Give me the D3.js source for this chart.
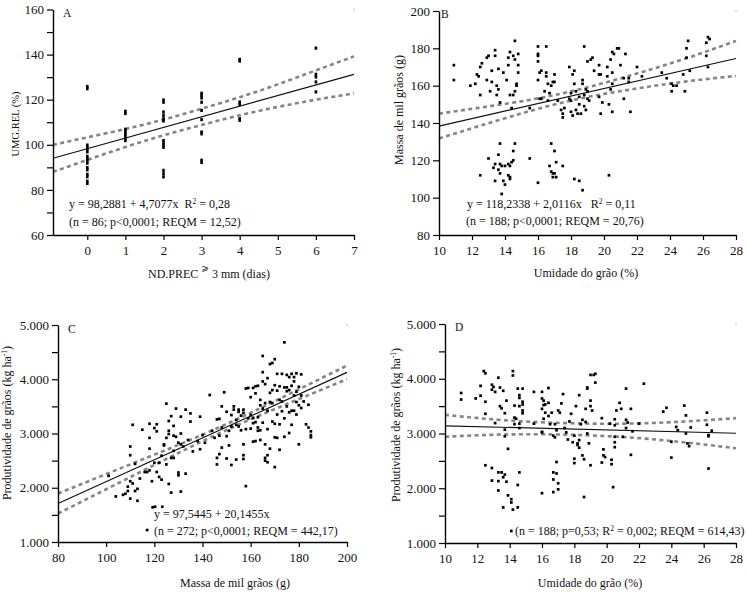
<!DOCTYPE html>
<html><head><meta charset="utf-8">
<script src="https://cdn.jsdelivr.net/npm/d3@7"></script>
<style>
body{margin:0;background:#fff}
text{font-family:'Liberation Serif','Times New Roman',serif;fill:#111}
</style>
</head><body>
<svg id="chart" width="747" height="597"></svg>
<script>
// ---------- DATA ----------
// Panel A: UMG.REL (%) vs ND.PREC >= 3 mm (dias)
const pointsA = [
 [0,125],[0,126],[0,100],[0,99],[0,98],[0,97],[0,95],[0,94],[0,93],[0,92],[0,90],[0,89],[0,87],[0,86],[0,84],[0,83],
 [1,114],[1,115],[1,107],[1,106],[1,105],[1,104],[1,103],[1,102],
 [2,120],[2,119],[2,114.7],[2,113.2],[2,111.7],[2,110.7],[2,102],[2,101],[2,100],[2,99],[2,88.8],[2,87.3],[2,85.9],
 [3,123],[3,122],[3,120.9],[3,119],[3,115.4],[3,111.3],[3,105.8],[3,105],[3,93.3],[3,92.3],
 [4,138],[4,137.3],[4,119.1],[4,118],[4,111.7],[4,111],
 [6,143],[6,131.4],[6,130.2],[6,128],[6,123.6]
];
const regA = {a: 98.2881, b: 4.7077};
const bandAx = [-0.9,0,1,2,3,4,5,6,7];
const bandAhi = [100.0,103.3,107.0,111.2,116.0,121.1,126.8,133.0,139.2];
const bandAlo = [88.0,93.3,99.0,104.2,108.8,113.1,116.8,120.0,122.8];

// Panel B: Massa de mil grãos (g) vs Umidade do grão (%)
const pointsB = [
 [10.9,171],[10.9,163],[11.9,160],[12.2,161],[12.3,166],[12.4,165],[12.5,155],[12.5,170],[12.6,172],[12.9,175],[12.9,163],[13.0,176],[13.1,157],[13.2,162],[13.2,168],[13.4,179],[13.4,176],[13.5,160],[13.5,155],[13.6,169],[13.6,158],[13.7,151],[13.9,167],[14.1,163],[14.2,171],[14.2,175],[14.3,178],[14.3,155],[14.4,148],[14.5,176],[14.6,174],[14.6,184],[14.7,161],[14.7,160],[14.8,177],[14.8,171],[14.8,167],[14.6,157],[14.5,155],
 [12.5,112],[13.0,121],[13.3,116],[13.4,118],[13.4,109],[13.6,123],[13.6,115],[13.7,113],[13.7,118],[13.7,129],[13.8,102],[13.8,117],[13.9,109],[14.0,107],[14.0,117],[14.2,118],[14.2,112],[14.3,110],[14.3,111],[14.3,117],[14.4,119],[14.5,125],[14.5,120],[14.6,129],[15.5,121],[16.0,108],
 [16.7,117],[16.8,129],[16.8,114],[16.9,111],[16.9,113],[17.0,125],[17.0,113],[17.1,119],[17.1,111],[17.5,117],[18.2,110],[18.5,109],[18.7,104],[20.3,112],
 [15.5,148],[16.0,181],[16.0,176],[16.0,177],[16.0,173],[16.1,167],[16.0,163],[16.1,153],[16.2,153],[16.2,168],[16.4,157],[16.5,181],[16.5,165],[16.5,167],[16.6,161],[16.6,152],[16.7,156],[16.8,160],[16.9,162],[17.0,166],[17.0,162],[17.2,152],[17.4,147],[17.5,143],[17.5,145],[17.6,148],[17.9,170],[17.9,153],[18.0,152],[18.0,146],[18.0,156],[18.1,166],[18.1,144],[18.2,161],[18.2,168],[18.3,157],[18.3,147],[18.4,145],[18.5,150],[18.5,154],[18.6,145],[18.7,163],[18.7,161],[18.8,181],[18.8,155],[18.8,149],[18.9,158],[18.9,147],[19.0,173],[19.0,157],[19.0,153],[19.2,174],[19.1,152],[19.3,175],[19.4,168],[19.7,171],[19.7,166],[19.7,154],[19.8,166],[19.8,145],[19.9,151],[20.2,170],[20.2,165],[20.3,150],[20.4,158],[20.4,174],[20.5,178],[20.5,167],[20.6,177],[20.5,161],[20.5,146],[20.8,180],[20.9,180],[21.0,171],[21.2,153],[21.2,164],[21.3,177],[21.5,162],[21.5,164],[21.6,146],[22.0,170],[22.3,165],
 [23.5,167],[23.8,164],[24.1,161],[24.1,157],[24.2,160],[24.4,160],[24.8,166],[24.9,157],[25.0,175],[25.0,180],[25.1,184],[25.2,168],[26.2,183],[26.3,186],[26.4,185],[26.2,176],[26.3,170]
];
const regB = {a: 118.2338, b: 2.0116};
const bandBx = [10,13,16,19,22,25,28];
const bandBhi = [145.0,148.9,153.2,159.1,166.5,174.7,184.0];
const bandBlo = [131.7,139.9,147.6,153.9,158.5,162.3,165.2];

// Panel C: Produtividade de grãos vs Massa de mil grãos
const pointsC = [
 [101,2220],[104,1840],[107,1870],[108,1890],[109,1940],[109,2020],[110,2760],[110,2600],[110,2120],[110,1800],[111,3160],[111,2080],[112,1940],[112,2440],[113,1760],[113,1980],[114,2170],[115,3070],[116,2290],[117,2290],[118,3180],[118,2920],[118,2720],[118,2320],[119,2120],[120,3100],[120,2460],[121,3170],[121,3040],[121,2290],[122,2460],[122,2200],[123,2150],[123,2590],[124,2780],[124,2800],[125,3550],[125,2430],[125,2920],[126,3230],[126,3050],[126,2990],[126,2070],[127,3320],[127,2550],[127,1910],[128,3140],[128,2960],[128,2680],[128,2550],[129,3460],[129,2940],[130,2830],[130,2280],[130,2230],[131,3000],[131,3310],[131,2800],[132,2760],[133,3440],[133,2260],[134,2880],[135,3370],[135,3220],[136,2670],[138,2860],[139,3310],[139,2710],[140,2970],[141,2830],[131,1930],
 [117,1220],[119.3,1640],[120.3,1650],[123.3,1650],
 [143,3710],[144,3050],[145,2920],[146,3260],[146,2550],[146,2430],[147,3270],[147,2960],[147,2620],[148,3500],[148,3110],[148,2740],[149,3760],[150,3400],[150,2950],[150,2540],[151,3050],[151,2780],[152,3340],[152,2420],[152,3130],[153,3440],[153,3500],[154,3250],[154,3160],[154,2520],[155,3440],[155,3400],[155,3130],[156,3330],[156,3060],[157,3440],[157,3380],[157,2800],[157,2530],[157,2600],[158,3830],[158,3080],[158,2030],[159,3840],[159,3280],[160,3670],[160,3340],[160,3090],[161,3840],[161,3290],[161,3190],[161,2850],[162,3870],[162,3740],[162,3210],[162,2860],[163,3300],[163,3110],[163,3050],[164,3620],[164,3520],[164,3060],[164,2880],[165,4130],[165,3960],[165,3460],[165,3200],[166,3910],[166,3560],[166,2800],[166,2500],[166,2550],[167,4020],[167,3420],[167,3080],[167,2470],[167,2600],[168,4280],[168,3750],[168,3580],[168,2720],[169,4300],[169,3800],[169,3560],[169,3220],[170,4370],[170,3890],[170,3180],[170,2930],[170,2380],[171,4100],[171,3790],[171,3350],[171,2920],[172,3870],[172,3620],[172,3170],[172,2700],[173,4100],[173,3590],[173,3410],[174,4680],[174,3850],[174,3280],[174,2940],[175,4080],[175,3850],[175,3500],[175,3780],[176,4040],[176,3800],[176,3390],[176,3010],[177,4100],[177,3880],[177,3420],[177,3160],[178,4040],[178,3960],[178,3700],[178,3420],[179,4110],[179,3770],[179,3580],[179,3350],[180,3860],[180,3520],[180,2800],[181,4090],[181,3700],[181,3470],[182,3590],[183,3170],[184,3530],[184,3110],[185,3040],[185,2970],[185,2930],[165,4430],[163,3880]
];
const regC = {a: 97.5445, b: 20.1455};
const bandCx = [80,100,120,140,160,180,200];
const bandChi = [1894,2252,2610,2978,3381,3814,4252];
const bandClo = [1524,1972,2420,2858,3261,3634,4002];

// Panel D: Produtividade de grãos vs Umidade do grão
const pointsD = [
 [11.0,3740],[11.0,3620],[11.9,3640],[12.2,3870],[12.2,3690],[12.4,4140],[12.5,4100],[12.5,3580],[12.5,3360],[12.9,3890],[12.9,3800],[13.0,3850],[13.1,3760],[13.1,3190],[13.3,4020],[13.4,3840],[13.4,3500],[13.5,3460],[13.6,3780],[13.7,3370],[13.7,3070],[13.7,2950],[13.8,3600],[13.9,2720],[14.2,4140],[14.2,4060],[14.3,3510],[14.3,3290],[14.3,3170],[14.4,3270],[14.5,3820],[14.6,3700],[14.6,3650],[14.6,3500],[14.6,3100],[14.8,3820],[14.8,3580],[14.8,3530],[14.8,3420],[14.8,3370],[14.6,3180],
 [12.5,2420],[12.9,2370],[12.9,2140],[13.3,2290],[13.3,2130],[13.3,1960],[13.5,2290],[13.6,2200],[13.6,1650],[13.7,2250],[13.8,2120],[13.9,1870],[14.1,1800],[14.1,1740],[14.2,1610],[14.5,2060],[14.5,1650],[14.6,2290],[14.1,1220],
 [15.5,3760],[15.5,3180],[16.0,3760],[16.0,3640],[16.1,3600],[16.1,3520],[16.0,3450],[16.1,3270],[16.0,3030],[16.0,3020],[16.2,3530],[16.2,3380],[16.4,3560],[16.4,3830],[16.4,3320],[16.5,3170],[16.6,3380],[16.7,2960],[16.8,3170],[16.8,2930],[16.9,3060],[17.0,3420],[17.1,3380],[17.2,3550],[17.3,3720],[17.4,3100],[17.5,3020],[17.6,2890],[17.7,3220],[17.8,3360],[17.9,2840],[18.0,2540],[18.0,2460],[18.0,2960],[18.1,3500],[18.2,2790],[18.2,2820],[18.3,3700],[18.3,2880],[18.3,2740],[18.4,3170],[18.5,3250],[18.5,2600],[18.6,2530],[18.7,3450],[18.7,3210],[18.8,3820],[18.8,3840],[18.8,3000],[18.9,2820],[19.0,4070],[19.0,3600],[19.0,3500],[19.0,2420],[19.2,4070],[19.3,4090],[19.3,3930],[19.1,3420],[19.7,3280],[19.8,2710],[19.8,2600],[19.9,2570],[19.7,2470],[20.2,3180],[20.3,2520],[20.3,2440],[20.5,3260],[20.5,3150],[20.5,2940],[20.5,2840],[20.5,2750],[20.6,3420],[20.8,3560],[20.9,3450],[21.0,2940],[21.2,3820],[21.2,3250],[21.3,3200],[21.2,3100],[21.5,3450],[21.5,2610],[21.6,3040],[22.0,3180],[22.3,3910],
 [16.7,2290],[16.7,2160],[16.7,1930],[16.9,2480],[16.9,2270],[17.0,2090],[17.0,1980],[16.0,1910],[18.6,1840],[20.4,2020],
 [23.5,3400],[23.7,3470],[24.0,2850],[24.0,2560],[24.3,3120],[24.4,3060],[24.8,3510],[24.9,3330],[24.9,3000],[25.0,2820],[25.1,2770],[25.2,3110],[26.2,3380],[26.2,3160],[26.3,2970],[26.3,2950],[26.3,2360],[26.5,3050]
];
const regD = {a: 3215, b: -7.5};
const bandDx = [10,13,16,19,22,25,28];
const bandDhi = [3340,3257.5,3205,3180.5,3185,3222.5,3280];
const bandDlo = [2940,2977.5,2985,2964.5,2915,2832.5,2730];

// tick values
const ticksAx = [0,1,2,3,4,5,6,7];
const ticksAy = [60,80,100,120,140,160];
const minorAy = [70,90,110,130,150];
const ticksBx = [10,12,14,16,18,20,22,24,26,28];
const ticksBy = [80,100,120,140,160,180,200];
const ticksCx = [80,100,120,140,160,180,200];
const ticksProd = [1000,2000,3000,4000,5000];
const minorProd = [1500,2500,3500,4500];
const ticksDx = [10,12,14,16,18,20,22,24,26,28];

// ---------- DRAW ----------
const svg = d3.select('#chart');
const fmtThousand = d => d3.format(',')(d).replace(',', '.');

function panel(c) {
  const x = d3.scaleLinear().domain(c.xd).range(c.xr);
  const y = d3.scaleLinear().domain(c.yd).range(c.yr);
  const g = svg.append('g');

  // confidence bands
  const band = (arr) => d3.line().x((d,i)=>x(c.bx[i])).y(d=>y(d)).curve(d3.curveNatural)(arr);
  [c.bhi, c.blo].forEach(arr => {
    g.append('path').attr('d', band(arr)).attr('fill','none')
      .attr('stroke','#858585').attr('stroke-width',2.6).attr('stroke-dasharray','4,3.4');
  });
  // regression line
  g.append('line')
    .attr('x1', x(c.xd[0])).attr('y1', y(c.reg.a + c.reg.b*c.xd[0]))
    .attr('x2', x(c.xd[1])).attr('y2', y(c.reg.a + c.reg.b*c.xd[1]))
    .attr('stroke','#111').attr('stroke-width',1.2);
  // points
  const s = c.ms || 2.7;
  g.selectAll('rect.pt').data(c.pts).join('rect').attr('class','pt')
    .attr('x', d=>x(d[0])-s/2).attr('y', d=>y(d[1])-s/2)
    .attr('width', s).attr('height', c.msh || s).attr('fill','#000');

  // axes
  const ya = d3.axisLeft(y).tickValues(c.yt).tickFormat(c.yf || (d=>d)).tickSize(6).tickSizeOuter(0).tickPadding(3);
  const gy = g.append('g').attr('transform',`translate(${c.xr[0]},0)`).call(ya);
  if (c.ym) {
    g.append('g').attr('transform',`translate(${c.xr[0]},0)`)
      .call(d3.axisLeft(y).tickValues(c.ym).tickFormat('').tickSize(6).tickSizeOuter(0))
      .select('.domain').remove();
  }
  const xa = d3.axisBottom(x).tickValues(c.xt).tickFormat(d=>d).tickSize(5).tickSizeOuter(0).tickPadding(6);
  const gx = g.append('g').attr('transform',`translate(0,${c.yr[0]})`).call(xa);
  g.selectAll('.domain').attr('stroke','#000').attr('stroke-width',1.4);
  g.selectAll('.tick line').attr('stroke','#000').attr('stroke-width',1.2);
  g.selectAll('.tick text').attr('font-size',13).attr('fill','#111')
    .attr('font-family',"'Liberation Serif','Times New Roman',serif");

  // faint corner mark
  g.append('rect').attr('x', c.xr[1]-0.5).attr('y', c.yr[1]-1).attr('width',1).attr('height',2).attr('fill','#bbb');

  // panel letter
  g.append('text').attr('x', c.letterPos[0]).attr('y', c.letterPos[1]).attr('font-size',11.5).text(c.letter);
  return {g, x, y};
}

// Panel A
const A = panel({xd:[-0.9,7], xr:[53,354], yd:[60,160], yr:[235,9.5], pts:pointsA, reg:regA,
  bx:bandAx, bhi:bandAhi, blo:bandAlo, xt:ticksAx, yt:ticksAy, ym:minorAy, letter:'A', letterPos:[63,17], ms:2.6, msh:3.2});
// Panel B
const B = panel({xd:[10,28], xr:[439,736], yd:[80,200], yr:[235,11], pts:pointsB, reg:regB,
  bx:bandBx, bhi:bandBhi, blo:bandBlo, xt:ticksBx, yt:ticksBy, letter:'B', letterPos:[441,18]});
// Panel C
const C = panel({xd:[80,200], xr:[58,347], yd:[1000,5000], yr:[542,325], pts:pointsC, reg:regC,
  bx:bandCx, bhi:bandChi, blo:bandClo, xt:ticksCx, yt:ticksProd, ym:minorProd, yf:fmtThousand, letter:'C', letterPos:[68,333]});
// Panel D
const D = panel({xd:[10,28], xr:[445,736], yd:[1000,5000], yr:[543,324], pts:pointsD, reg:regD,
  bx:bandDx, bhi:bandDhi, blo:bandDlo, xt:ticksDx, yt:ticksProd, ym:minorProd, yf:fmtThousand, letter:'D', letterPos:[455,331]});

// ---------- TEXT ----------
function eqText(x, y, parts) {
  const t = svg.append('text').attr('x', x).attr('y', y).attr('font-size', 12).style('white-space','pre');
  parts.forEach(p => {
    const ts = t.append('tspan').text(p.t);
    if (p.sup) ts.attr('font-size', 7.5).attr('dy', -4.5);
    if (p.down) ts.attr('dy', 4.5);
  });
  return t;
}
eqText(69, 208, [{t:'y = 98,2881 + 4,7077x  R'},{t:'2',sup:true},{t:' = 0,28',down:true}]);
eqText(69, 226, [{t:'(n = 86; p<0,0001; REQM = 12,52)'}]);
eqText(467, 208, [{t:'y = 118,2338 + 2,0116x   R'},{t:'2',sup:true},{t:' = 0,11',down:true}]);
eqText(466, 225, [{t:'(n = 188; p<0,0001; REQM = 20,76)'}]);
eqText(154, 518, [{t:'y = 97,5445 + 20,1455x'}]);
eqText(154, 535, [{t:'(n = 272; p<0,0001; REQM = 442,17)'}]);
eqText(515, 535, [{t:'(n = 188; p=0,53; R'},{t:'2',sup:true},{t:' = 0,002; REQM = 614,43)',down:true}]);

// x labels
const xl = svg.append('text').attr('x',148).attr('y',278).attr('font-size',12).style('white-space','pre');
xl.append('tspan').text('ND.PREC ');
xl.append('tspan').text('⩾').attr('font-family',"'DejaVu Sans',sans-serif").attr('font-size',9).attr('dy',-7);
xl.append('tspan').text(' 3 mm (dias)').attr('dy',7);

svg.append('text').attr('x',586).attr('y',277).attr('font-size',12).attr('text-anchor','middle').text('Umidade do grão (%)');
svg.append('text').attr('x',235).attr('y',587).attr('font-size',12).attr('text-anchor','middle').text('Massa de mil grãos (g)');
svg.append('text').attr('x',590).attr('y',587).attr('font-size',12).attr('text-anchor','middle').text('Umidade do grão (%)');

// y labels
function yLabel(x, y, size, parts) {
  const t = svg.append('text').attr('transform',`translate(${x},${y}) rotate(-90)`)
    .attr('text-anchor','middle').attr('font-size', size);
  parts.forEach(p => {
    const ts = t.append('tspan').text(p.t);
    if (p.sup) ts.attr('font-size', 7.5).attr('dy', -4.5);
    if (p.down) ts.attr('dy', 4.5);
  });
}
yLabel(19, 124, 10.5, [{t:'UMG.REL (%)'}]);
yLabel(403, 110, 12, [{t:'Massa de mil grãos (g)'}]);
yLabel(11, 423, 12, [{t:'Produtividade de grãos (kg ha'},{t:'-1',sup:true},{t:')',down:true}]);
yLabel(400, 425, 12, [{t:'Produtividade de grãos (kg ha'},{t:'-1',sup:true},{t:')',down:true}]);
</script>
</body></html>
